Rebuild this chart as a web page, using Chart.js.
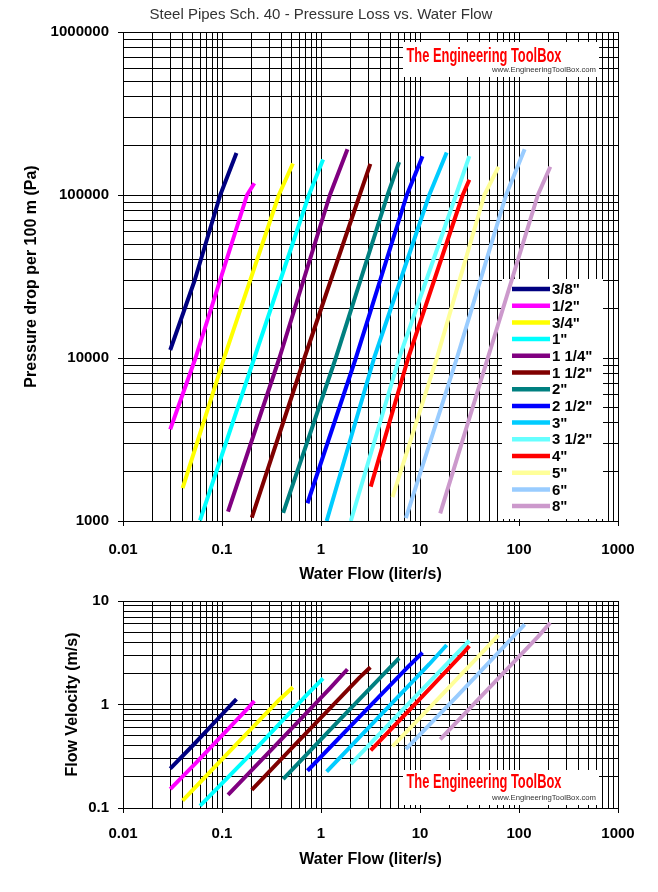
<!DOCTYPE html>
<html><head><meta charset="utf-8">
<script src="https://cdn.jsdelivr.net/npm/chart.js@4.4.1/dist/chart.umd.min.js"></script>
<style>
html,body{margin:0;padding:0;background:#fff;}
#wrap{position:relative;width:658px;height:892px;overflow:hidden;}
canvas{position:absolute;left:0;}
#c1{top:0;} #c2{top:590px;}
</style></head><body>
<div id="wrap"><canvas id="c1" width="658" height="590"></canvas><canvas id="c2" width="658" height="302"></canvas></div>
<script>
// ---- data ----
const pipeSizes = ['3/8"', '1/2"', '3/4"', '1"', '1 1/4"', '1 1/2"', '2"', '2 1/2"', '3"', '3 1/2"', '4"', '5"', '6"', '8"'];
const pipeColors = ['#000080', '#FF00FF', '#FFFF00', '#00FFFF', '#800080', '#800000', '#008080', '#0000FF', '#00CCFF', '#66FFFF', '#FF0000', '#FFFF99', '#99CCFF', '#CC99CC'];
// water flow (liter/s)
const flows = [
  [0.03, 0.053, 0.096, 0.14],
  [0.03, 0.054, 0.179, 0.212],
  [0.04, 0.105, 0.375, 0.52],
  [0.06, 0.212, 0.755, 1.05],
  [0.115, 0.38, 1.23, 1.85],
  [0.2, 0.68, 2.46, 3.15],
  [0.415, 1.41, 4.7, 6.15],
  [0.73, 2.25, 7.36, 10.6],
  [1.14, 3.44, 12.4, 18.6],
  [2.0, 6.16, 23.1, 31.5],
  [3.18, 7.6, 27, 31.5],
  [5.28, 14.8, 44.7, 62],
  [7.2, 23.6, 74, 114],
  [16, 48.4, 155, 207]
];
// pressure drop per 100 m (Pa)
const pressureDrops = [
  [11200, 30000, 100000, 181000],
  [3650, 10000, 100000, 118000],
  [1590, 10000, 100000, 156000],
  [1010, 10000, 100000, 165000],
  [1140, 10000, 100000, 191000],
  [1050, 10000, 100000, 155000],
  [1120, 10000, 100000, 159000],
  [1285, 10000, 100000, 173000],
  [1000, 10000, 100000, 182000],
  [1000, 10000, 100000, 173000],
  [1625, 10000, 100000, 124000],
  [1400, 10000, 100000, 149000],
  [1040, 10000, 100000, 191000],
  [1115, 10000, 100000, 149000]
];
// flow velocity (m/s)
const velocities = [
  [0.24, 0.42, 0.77, 1.13],
  [0.152, 0.27, 0.9, 1.08],
  [0.118, 0.31, 1.1, 1.47],
  [0.105, 0.36, 1.3, 1.79],
  [0.134, 0.44, 1.43, 2.19],
  [0.15, 0.51, 1.83, 2.29],
  [0.19, 0.65, 2.15, 2.8],
  [0.229, 0.7, 2.25, 3.17],
  [0.225, 0.68, 2.45, 3.76],
  [0.266, 0.82, 3.05, 4.13],
  [0.36, 0.86, 3.1, 3.67],
  [0.393, 1.1, 3.35, 4.69],
  [0.37, 1.2, 3.8, 5.95],
  [0.46, 1.4, 4.5, 6.17]
];
const flowTickLabels = ['0.01', '0.1', '1', '10', '100', '1000'];
const pressureTickLabels = ['1000', '10000', '100000', '1000000'];
const velocityTickLabels = ['0.1', '1', '10'];

// ---- helpers ----
const FONT = '"Liberation Sans", Arial, sans-serif';
Chart.defaults.font.family = FONT;
Chart.defaults.color = '#000';

function makeGridTicks(labels) {
  const decades = labels.map(Number);
  const out = [];
  for (let i = 0; i < decades.length - 1; i++) {
    for (let k = 1; k <= 9; k++) out.push({value: +(decades[i] * k).toPrecision(6), major: k === 1});
  }
  out.push({value: decades[decades.length - 1], major: true});
  return out;
}
function labelFor(value, labels) {
  const hit = labels.find(l => Math.abs(Math.log10(Number(l)) - Math.log10(value)) < 1e-6);
  return hit === undefined ? '' : hit;
}
function buildDatasets(yValues) {
  return pipeSizes.map((name, i) => ({
    label: name,
    data: flows[i].map((q, j) => ({x: q, y: yValues[i][j]})),
    borderColor: pipeColors[i],
    backgroundColor: pipeColors[i],
    borderWidth: 4,
    pointRadius: 0,
    pointHoverRadius: 0,
    showLine: true,
    fill: false,
    tension: 0,
    borderJoinStyle: 'round',
    order: pipeSizes.length - i
  }));
}
function gridOpts() {
  return {
    color: '#000', lineWidth: 1, tickLength: 5,
    tickColor: c => (c.tick && c.tick.major) ? '#000' : 'rgba(0,0,0,0)'
  };
}
function xAxis(labelPad, height) {
  return {
    type: 'logarithmic', min: 0.01, max: 1000,
    afterBuildTicks: s => { s.ticks = makeGridTicks(flowTickLabels); },
    afterFit: s => { s.height = height; },
    ticks: {autoSkip: false, maxRotation: 0, padding: labelPad, color: '#000',
            font: {size: 15, weight: 'bold'}, callback: v => labelFor(v, flowTickLabels)},
    grid: gridOpts(),
    border: {color: '#000', width: 1},
    title: {display: true, text: 'Water Flow (liter/s)', color: '#000', padding: 0,
            font: {size: 16, weight: 'bold', lineHeight: 1}}
  };
}
function yAxis(min, max, labels, width, titleText) {
  return {
    type: 'logarithmic', min: min, max: max,
    afterBuildTicks: s => { s.ticks = makeGridTicks(labels); },
    afterFit: s => { s.width = width; s.paddingTop = 0; s.paddingBottom = 0; },
    ticks: {autoSkip: false, padding: 9, color: '#000',
            font: {size: 15, weight: 'bold'}, callback: v => labelFor(v, labels)},
    grid: gridOpts(),
    border: {color: '#000', width: 1},
    title: {display: true, text: titleText, color: '#000', padding: 0,
            font: {size: 16, weight: 'bold', lineHeight: 1}}
  };
}

// white legend box inside the pressure chart
const boxLegend = {
  id: 'boxLegend',
  beforeDatasetsDraw(chart) {
    const ctx = chart.ctx, a = chart.chartArea;
    const x0 = a.right - 116, y0 = a.top + 247, x1 = a.right - 15, y1 = a.bottom - 2;
    ctx.save();
    ctx.fillStyle = '#fff';
    ctx.fillRect(x0, y0, x1 - x0, y1 - y0);
    ctx.font = 'bold 15px ' + FONT;
    ctx.textBaseline = 'middle';
    chart.data.datasets.forEach((ds, i) => {
      const y = y0 + 10 + i * 16.7;
      ctx.strokeStyle = ds.borderColor;
      ctx.lineWidth = 4.5;
      ctx.beginPath(); ctx.moveTo(x0 + 10, y); ctx.lineTo(x0 + 48, y); ctx.stroke();
      ctx.fillStyle = '#000';
      ctx.fillText(ds.label, x0 + 50, y + 1);
    });
    ctx.restore();
  }
};
// "The Engineering ToolBox" badge
const watermark = {
  id: 'watermark',
  beforeDatasetsDraw(chart, args, opts) {
    const ctx = chart.ctx, a = chart.chartArea;
    const top = opts.fromBottom ? a.bottom - 38 : a.top + 10;
    const left = a.right - 215;
    ctx.save();
    ctx.fillStyle = '#fff';
    ctx.fillRect(left, top, 196, 35);
    const t = 'The Engineering ToolBox';
    ctx.font = 'bold 21px "Liberation Sans Narrow", ' + FONT;
    const tw = ctx.measureText(t).width;
    ctx.translate(left + 3.5, top + opts.base);
    ctx.scale(155 / tw, 1);
    ctx.fillStyle = '#FF0000';
    ctx.textBaseline = 'alphabetic';
    ctx.fillText(t, 0, 0);
    ctx.restore();
    ctx.save();
    const s = 'www.EngineeringToolBox.com';
    ctx.font = '8px ' + FONT;
    const sw = ctx.measureText(s).width;
    ctx.translate(left + 89, top + 28);
    ctx.scale(104 / sw, 1);
    ctx.fillStyle = '#333';
    ctx.textBaseline = 'middle';
    ctx.fillText(s, 0, 0);
    ctx.restore();
  }
};

new Chart(document.getElementById('c1'), {
  type: 'scatter',
  data: {datasets: buildDatasets(pressureDrops)},
  options: {
    responsive: false, animation: false, events: [],
    layout: {padding: {left: 24, right: 40, top: 0, bottom: 7}},
    plugins: {
      legend: {display: false}, tooltip: {enabled: false},
      title: {display: true, text: 'Steel Pipes Sch. 40 - Pressure Loss vs. Water Flow',
              color: '#333', padding: {top: 6, bottom: 8},
              font: {size: 15, weight: 'normal', lineHeight: 1.2}},
      watermark: {fromBottom: false, base: 20}
    },
    scales: {
      x: xAxis(15, 62),
      y: yAxis(1000, 1000000, pressureTickLabels, 99, 'Pressure drop per 100 m (Pa)')
    }
  },
  plugins: [boxLegend, watermark]
});

new Chart(document.getElementById('c2'), {
  type: 'scatter',
  data: {datasets: buildDatasets(velocities)},
  options: {
    responsive: false, animation: false, events: [],
    layout: {padding: {left: 65, right: 40, top: 11, bottom: 24}},
    plugins: {
      legend: {display: false}, tooltip: {enabled: false},
      watermark: {fromBottom: true, base: 18}
    },
    scales: {
      x: xAxis(12, 60),
      y: yAxis(0.1, 10, velocityTickLabels, 58, 'Flow Velocity (m/s)')
    }
  },
  plugins: [watermark]
});
</script>
</body></html>
